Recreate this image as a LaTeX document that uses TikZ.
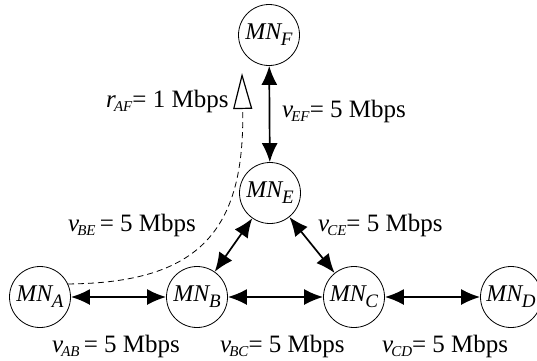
\documentclass[tikz,border=0pt]{standalone}
\usepackage{fontspec}
\setmainfont{Liberation Serif}
\usetikzlibrary{arrows.meta}
\newcommand\subv[2]{\textit{#1}\kern-2pt\raisebox{-4.5pt}{\fontsize{15}{15}\selectfont\textit{#2}}}
\newcommand\mn[1]{\textit{MN}\kern-1.5pt\raisebox{-6pt}{\fontsize{19}{19}\selectfont\textit{#1}}}
\tikzset{
  mnode/.style={circle,draw,line width=0.8pt,minimum size=61pt,inner sep=0pt,font=\fontsize{24}{26}\selectfont},
  link/.style={line width=1.7pt,{Latex[length=19pt,width=16pt]}-{Latex[length=19pt,width=16pt]}},
  rate/.style={anchor=base west,inner sep=0pt,font=\fontsize{25}{28}\selectfont},
  flow/.style={line width=0.8pt,dash pattern=on 6pt off 4pt,-{Triangle[open,length=36pt,width=19pt,line width=1.2pt]}}
}
\begin{document}
\begin{tikzpicture}[x=1pt,y=-1pt]
\useasboundingbox (0,0) rectangle (537,360);
\node[mnode] (F) at (269,35) {\mn{F}};
\node[mnode] (E) at (270,193) {\mn{E}};
\node[mnode] (A) at (40,297) {\mn{A}};
\node[mnode] (B) at (197,297) {\mn{B}};
\node[mnode] (C) at (354,297) {\mn{C}};
\node[mnode] (D) at (511,297) {\mn{D}};
\draw[link] (A) -- (B);
\draw[link] (B) -- (C);
\draw[link] (C) -- (D);
\draw[link] (B) -- (E);
\draw[link] (E) -- (C);
\draw[link] (E) -- (F);
\coordinate (af) at (242,73);
\draw[flow] (A.25) .. controls (200,283) and (245,230) .. (af);
\node[rate] (rAF) at (106,107) {\subv{r}{AF}= 1 Mbps};
\node[rate] (vEF) at (282,117) {\subv{v}{EF}= 5 Mbps};
\node[rate] (vBE) at (68,231) {\subv{v}{BE}\,= 5 Mbps};
\node[rate] (vCE) at (318,231) {\subv{v}{CE}= 5 Mbps};
\node[rate] (vAB) at (52,352) {\subv{v}{AB}\,= 5 Mbps};
\node[rate] (vBC) at (220,352) {\subv{v}{BC}= 5 Mbps};
\node[rate] (vCD) at (382,352) {\subv{v}{CD}= 5 Mbps};
\end{tikzpicture}
\end{document}
